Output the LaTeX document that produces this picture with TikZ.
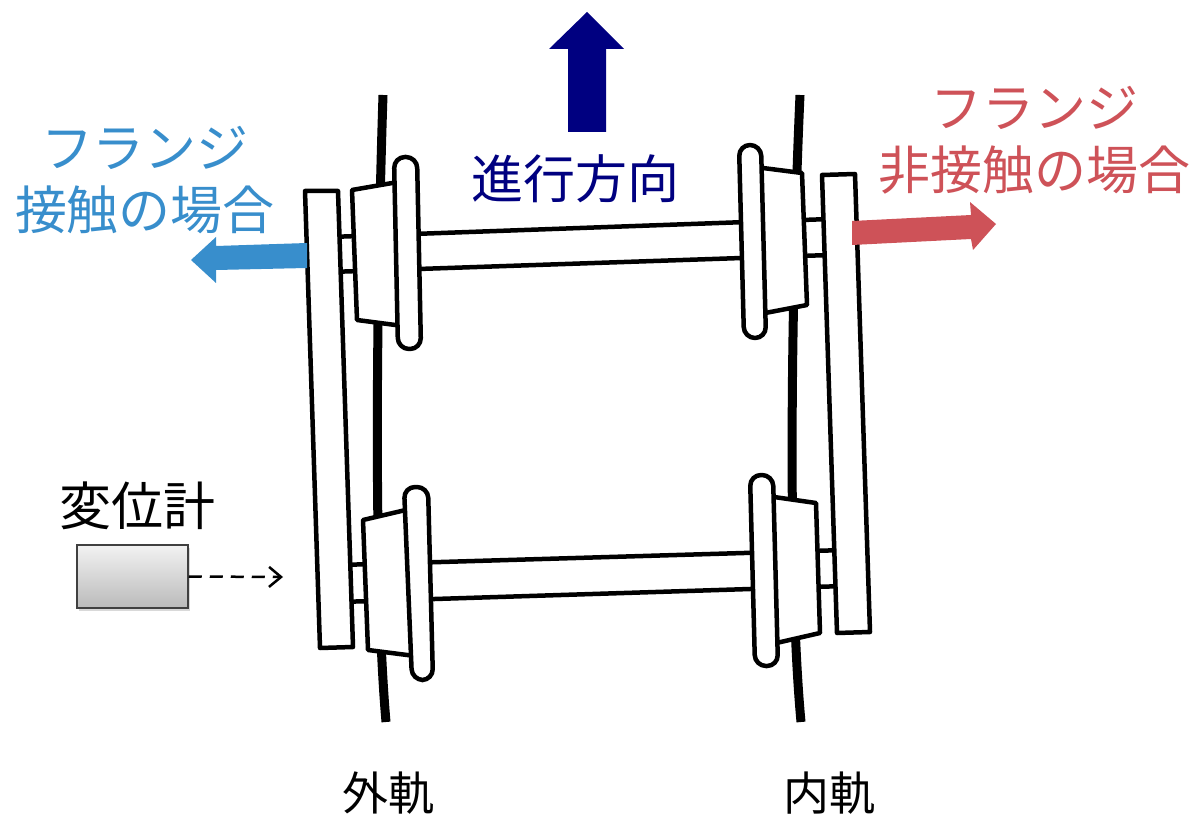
\documentclass[tikz,border=0pt]{standalone}
\usepackage{fontspec}
\setmainfont{Noto Sans CJK JP}
\usetikzlibrary{arrows.meta,shadows}

\definecolor{contactblue}{RGB}{56,142,204}
\definecolor{freered}{RGB}{206,82,88}
\definecolor{headnavy}{RGB}{0,0,128}

\begin{document}
\begin{tikzpicture}[
            x=1pt, y=-1pt,
            every node/.style={inner sep=0pt, font=\fontsize{52}{62}\selectfont},
            railline/.style={line width=9pt},
            part/.style={draw, fill=white, line width=4.5pt, line join=round},
            flange/.style={part, rounded corners=11pt},
            railname/.style={font=\fontsize{46}{50}\selectfont}
        ]
        \useasboundingbox (0,0) rectangle (1197,818);

        % Rails
        \draw[railline] (383,95) .. controls (378,250) and (372,560) .. (386,722);
        \draw[railline] (800,95) .. controls (793,250) and (786,560) .. (801,722);

        % Axles
        \draw[part] (330,237) -- (830,219) -- (830,255) -- (330,272) -- cycle;
        \draw[part] (340,565) -- (845,550) -- (845,586) -- (340,602) -- cycle;

        % Bogie frames
        \draw[part] (305,191) -- (338,191) -- (353,647) -- (320,648) -- cycle;
        \draw[part] (822,175) -- (855,174) -- (870,632) -- (837,633) -- cycle;

        % Wheel treads
        \draw[part] (352,190) -- (398,182) -- (403,326) -- (357,320) -- cycle;
        \draw[part] (755,167) -- (802,173) -- (807,305) -- (760,314) -- cycle;
        \draw[part] (363,520) -- (410,509) -- (415,656) -- (368,650) -- cycle;
        \draw[part] (767,496) -- (816,503) -- (820,633) -- (772,644) -- cycle;

        % Flanges
        \draw[flange] (394,157) -- (417,157) -- (421,349) -- (398,349) -- cycle;
        \draw[flange] (739,145) -- (761,145) -- (766,338) -- (744,338) -- cycle;
        \draw[flange] (404,487) -- (428,487) -- (433,680) -- (412,680) -- cycle;
        \draw[flange] (750,475) -- (773,475) -- (778,666) -- (755,666) -- cycle;

        % Block arrows
        \fill[headnavy] (568,132) -- (568,49) -- (549,49) -- (587,12) -- (624,49) -- (606,49) -- (606,132) -- cycle;
        \fill[contactblue] (307,243) -- (216,246) -- (216,237) -- (191,260) -- (216,283) -- (216,270) -- (307,268) -- cycle;
        \fill[freered] (852,221) -- (971,215) -- (970,202) -- (996,224) -- (973,250) -- (971,239) -- (852,245) -- cycle;

        % Labels
        \node[text=contactblue, align=center] (contact) at (145,180) {フランジ\\接触の場合};
        \node[text=freered, align=center] (nocontact) at (1034,140) {フランジ\\非接触の場合};
        \node[text=headnavy] (heading) at (575,179) {進行方向};
        \node[railname] (outerrail) at (388,793) {外軌};
        \node[railname] (innerrail) at (829,793) {内軌};

        % Displacement gauge
        \node (gaugelabel) at (137,506) {変位計};
        \node[draw=black!75, line width=1.5pt, top color=black!5, bottom color=black!27,
              minimum width=111pt, minimum height=63pt,
              drop shadow={opacity=0.3, shadow xshift=2pt, shadow yshift=-3pt}] (gauge) at (132.5,576.5) {};
        \coordinate (target) at (283,577);
        \draw[dash pattern=on 13pt off 8pt, line width=2.5pt, -{Straight Barb[length=12pt,width=20pt]}] (gauge.east) -- (target);
\end{tikzpicture}
\end{document}
